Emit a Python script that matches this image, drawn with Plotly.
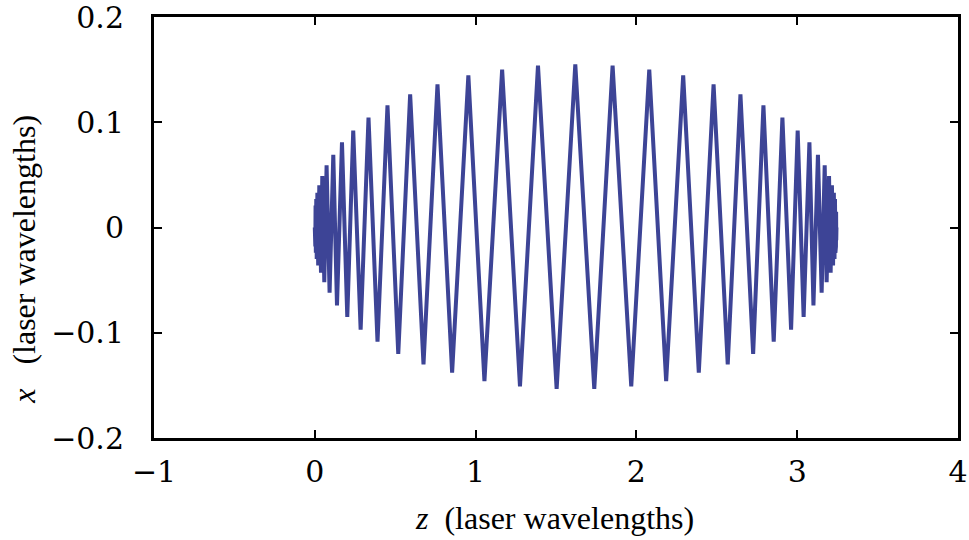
import plotly.graph_objects as go

# Turning points of the electron trajectory in the laser field
# (longitudinal position z, transverse position x), in laser wavelengths.
z_points = [
    0.0, 0.0001, 0.0004, 0.0008, 0.0014, 0.0022, 0.0033, 0.0047, 0.0065, 0.0090,
    0.0120, 0.0160, 0.0210,
    0.028, 0.0385, 0.0466, 0.059, 0.0733, 0.092, 0.115, 0.138, 0.169, 0.202,
    0.239, 0.285, 0.334, 0.390, 0.452, 0.519, 0.593, 0.676, 0.763, 0.854,
    0.955, 1.055, 1.165, 1.276, 1.388, 1.504, 1.620, 1.738, 1.852, 1.968,
    2.080, 2.185, 2.291, 2.388, 2.480, 2.568, 2.647, 2.726, 2.790, 2.854,
    2.908, 2.962, 3.003, 3.040, 3.076, 3.101, 3.129, 3.152, 3.171, 3.183,
    3.198, 3.208, 3.216,
    3.223, 3.228, 3.232, 3.235, 3.2375, 3.2395, 3.241, 3.242, 3.2428, 3.2434,
    3.2438, 3.2441, 3.2442,
]
x_points = [
    0.0, 0.003, -0.006, 0.009, -0.012, 0.015, -0.018, 0.021, -0.024, 0.027,
    -0.030, 0.033, -0.036,
    0.040, -0.043, 0.049, -0.052, 0.059, -0.062, 0.069, -0.074, 0.081, -0.085,
    0.092, -0.097, 0.1045, -0.1085, 0.116, -0.120, 0.1265, -0.130, 0.136, -0.138,
    0.1445, -0.146, 0.150, -0.151, 0.1537, -0.1534, 0.155, -0.1534, 0.1537, -0.151,
    0.150, -0.146, 0.1445, -0.138, 0.136, -0.130, 0.1265, -0.120, 0.116, -0.1085,
    0.1045, -0.097, 0.092, -0.085, 0.081, -0.074, 0.069, -0.062, 0.059, -0.052,
    0.049, -0.043, 0.040,
    -0.036, 0.033, -0.030, 0.027, -0.024, 0.021, -0.018, 0.015, -0.012, 0.009,
    -0.006, 0.003, 0.0,
]

z_ticks = [-1, 0, 1, 2, 3, 4]
x_ticks = [-0.2, -0.1, 0, 0.1, 0.2]

LINE_COLOR = "#3d4496"
TICK_FONT = dict(family="DejaVu Serif", size=30, color="black")
TITLE_FONT = dict(family="Liberation Serif", size=32, color="black")

fig = go.Figure()
fig.add_trace(go.Scatter(
    x=z_points, y=x_points, mode="lines",
    line=dict(color=LINE_COLOR, width=4),
    showlegend=False, hoverinfo="skip",
))

axis_common = dict(
    showgrid=False, zeroline=False, automargin=False,
    showline=True, linecolor="black", linewidth=3, mirror="ticks",
    ticks="inside", ticklen=8, tickwidth=2, tickcolor="black",
    tickfont=TICK_FONT, ticklabeloverflow="allow",
)

fig.update_xaxes(range=[-1, 4], tickvals=z_ticks, ticklabelstandoff=5,
                 **axis_common)
fig.update_yaxes(range=[-0.2, 0.2], tickvals=x_ticks, ticklabelstandoff=21,
                 **axis_common)

fig.add_annotation(
    text="<i>z</i>  (laser wavelengths)", xref="paper", yref="paper",
    x=0.498, y=-0.19, xanchor="center", yanchor="middle",
    showarrow=False, font=TITLE_FONT,
)
fig.add_annotation(
    text="<i>x</i>   (laser wavelengths)", xref="paper", yref="paper",
    x=-0.162, y=0.425, xanchor="center", yanchor="middle", textangle=-90,
    showarrow=False, font=TITLE_FONT,
)

fig.update_layout(
    width=969, height=540,
    margin=dict(l=154, r=11, t=17, b=102, pad=0),
    paper_bgcolor="white", plot_bgcolor="white",
)

fig.write_html("out.html")
